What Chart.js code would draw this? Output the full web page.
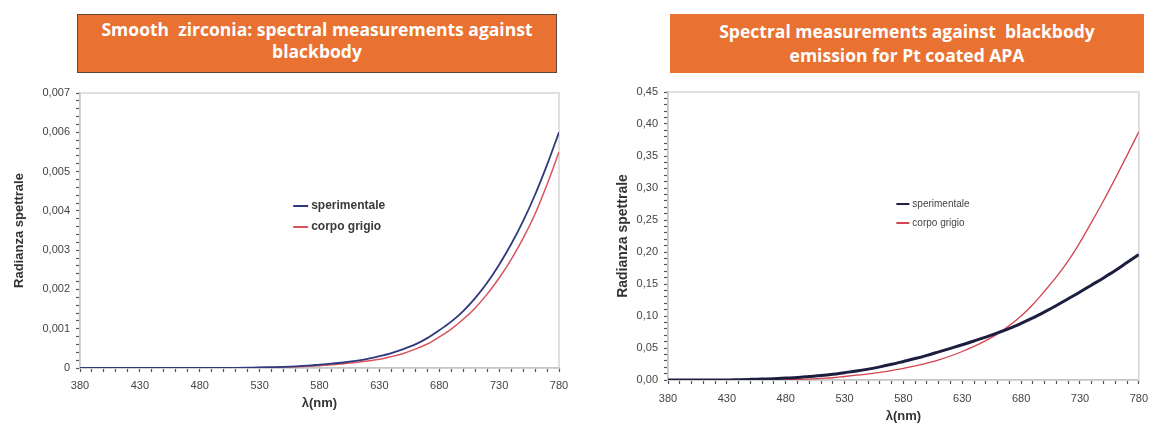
<!DOCTYPE html>
<html>
<head>
<meta charset="utf-8">
<script src="https://cdn.jsdelivr.net/npm/chart.js@4.4.0/dist/chart.umd.min.js"></script>
<style>
  body { margin: 0; background: #fff; width: 1156px; height: 427px; position: relative; overflow: hidden; }
  .box { position: absolute; background: #E97132; color: #fff; font-family: "Open Sans", Lato, sans-serif;
         font-weight: 700; font-size: 17.5px; text-align: center; box-sizing: border-box; white-space: nowrap; }
  #title1 { left: 77px; top: 14px; width: 480px; height: 59px; line-height: 22px; padding-top: 3px; border: 1px solid #5b4638; }
  #title2 { left: 670px; top: 14px; width: 474px; height: 59px; line-height: 24px; padding-top: 5px; }
  .wrap { position: absolute; top: 0; height: 427px; }
  #wrap1 { left: 0; width: 580px; }
  #wrap2 { left: 580px; width: 576px; }
</style>
</head>
<body>
<div class="box" id="title1">Smooth&nbsp; zirconia: spectral measurements against<br>blackbody</div>
<div class="box" id="title2">Spectral measurements against&nbsp; blackbody<br>emission for Pt coated APA</div>
<div class="wrap" id="wrap1"><canvas id="chartZirconia" width="580" height="427"></canvas></div>
<div class="wrap" id="wrap2"><canvas id="chartPt" width="576" height="427"></canvas></div>
<script>
// wavelengths, nm
const wavelengths = [380, 390, 400, 410, 420, 430, 440, 450, 460, 470, 480, 490, 500, 510, 520, 530, 540, 550, 560, 570,
                     580, 590, 600, 610, 620, 630, 640, 650, 660, 670, 680, 690, 700, 710, 720, 730, 740, 750, 760, 770, 780];

// smooth zirconia (left)
const zrSperimentale = [0, 0, 0, 0, 0, 0, 0, 0, 0, 0, 0, 0, 0, 0.000005, 0.00001, 0.000015, 0.000022, 0.00003, 0.000042, 0.00006,
                        0.000085, 0.00011, 0.00014, 0.00018, 0.00023, 0.0003, 0.00038, 0.00048, 0.0006, 0.00076, 0.00096, 0.00118,
                        0.00145, 0.00178, 0.00217, 0.00263, 0.00315, 0.00374, 0.00441, 0.00517, 0.006];
const zrCorpoGrigio = [0, 0, 0, 0, 0, 0, 0, 0, 0, 0, 0, 0, 0, 0, 0.000005, 0.00001, 0.000015, 0.000022, 0.00003, 0.000045,
                       0.00006, 0.00008, 0.00011, 0.00014, 0.00018, 0.00022, 0.00029, 0.00037, 0.00048, 0.00061, 0.00079, 0.00099,
                       0.00124, 0.00153, 0.00188, 0.00229, 0.00276, 0.0033, 0.00392, 0.00467, 0.0055];

// Pt coated APA (right)
const ptSperimentale = [0, 0, 0, 0, 0, 0, 0.0005, 0.001, 0.0015, 0.002, 0.003, 0.004, 0.0055, 0.007, 0.009, 0.0115, 0.014, 0.017, 0.0205, 0.0245,
                        0.029, 0.0335, 0.0385, 0.044, 0.0495, 0.055, 0.061, 0.067, 0.0735, 0.0805, 0.0885, 0.097,
                        0.1065, 0.1165, 0.127, 0.1375, 0.1485, 0.1595, 0.171, 0.1835, 0.196];
const ptCorpoGrigio = [0, 0, 0, 0, 0, 0, 0, 0, 0, 0.0003, 0.0006, 0.001, 0.0015, 0.0025, 0.0035, 0.0055, 0.0075, 0.0095, 0.012, 0.0145,
                       0.018, 0.022, 0.0265, 0.0315, 0.0375, 0.0445, 0.0525, 0.0615, 0.072, 0.085, 0.1, 0.118,
                       0.139, 0.161, 0.186, 0.215, 0.247, 0.28, 0.315, 0.351, 0.388];

const seriesLabels = ['sperimentale', 'corpo grigio'];

function pairs(ys) {
    return wavelengths.map((w, i) => ({ x: w, y: ys[i] }));
}

// light grey frame round the plot (top / right)
const plotFrame = {
    id: 'plotFrame',
    beforeDatasetsDraw(chart) {
        const { ctx, chartArea: a } = chart;
        ctx.save();
        ctx.strokeStyle = '#d6d6d6';
        ctx.lineWidth = 1.5;
        ctx.strokeRect(a.left, a.top, a.right - a.left, a.bottom - a.top);
        ctx.restore();
    }
};

// legend drawn inside the plot area
const inlineLegend = {
    id: 'inlineLegend',
    afterDatasetsDraw(chart, args, opts) {
        const { ctx, chartArea: a } = chart;
        const left = a.left + opts.fx * (a.right - a.left);
        const top = a.top + opts.fy * (a.bottom - a.top);
        ctx.save();
        ctx.font = opts.font;
        ctx.textBaseline = 'middle';
        chart.data.datasets.forEach((ds, i) => {
            const yy = top + i * opts.rowGap;
            ctx.strokeStyle = ds.borderColor;
            ctx.lineWidth = 2;
            ctx.beginPath();
            ctx.moveTo(left, yy);
            ctx.lineTo(left + opts.lineLen, yy);
            ctx.stroke();
            ctx.fillStyle = opts.color;
            ctx.fillText(ds.label, left + opts.lineLen + 3, yy);
        });
        ctx.restore();
    }
};

Chart.defaults.font.family = '"Liberation Sans", Arial, sans-serif';
Chart.defaults.color = '#444';

function makeChart(id, cfg) {
    return new Chart(document.getElementById(id), {
        type: 'line',
        data: {
            datasets: [
                {
                    label: seriesLabels[0],
                    data: pairs(cfg.exp),
                    borderColor: cfg.expColor,
                    borderWidth: cfg.expWidth,
                    pointRadius: 0,
                    cubicInterpolationMode: 'monotone'
                },
                {
                    label: seriesLabels[1],
                    data: pairs(cfg.grey),
                    borderColor: cfg.greyColor,
                    borderWidth: cfg.greyWidth,
                    pointRadius: 0,
                    cubicInterpolationMode: 'monotone'
                }
            ]
        },
        options: {
            responsive: false,
            animation: false,
            layout: { padding: { top: cfg.top, right: cfg.right, left: 0, bottom: 0 } },
            scales: {
                x: {
                    type: 'linear',
                    min: 380,
                    max: 780,
                    afterFit(s) { s.height = cfg.xHeight; },
                    ticks: {
                        stepSize: 10,
                        autoSkip: false,
                        maxRotation: 0,
                        padding: cfg.xTickPad,
                        font: { size: 11 },
                        callback: v => ((v - 380) % 50 === 0 ? String(v) : '')
                    },
                    grid: { drawOnChartArea: false, tickLength: 4, tickWidth: 1.2, tickColor: '#555' },
                    border: { color: '#999', width: 1.5 },
                    title: {
                        display: true,
                        text: 'λ(nm)',
                        color: '#333',
                        font: { size: 13, weight: 'bold' },
                        padding: { top: 0, bottom: cfg.xTitlePad }
                    }
                },
                y: {
                    min: 0,
                    max: cfg.yMax,
                    afterFit(s) { s.width = cfg.yWidth; },
                    ticks: {
                        stepSize: cfg.yMinor,
                        autoSkip: false,
                        padding: 6,
                        font: { size: 11 },
                        callback: v => {
                            const k = v / cfg.yMajor;
                            if (Math.abs(k - Math.round(k)) > 1e-6) return '';
                            if (v === 0 && cfg.zeroLabel) return cfg.zeroLabel;
                            return v.toFixed(cfg.digits).replace('.', ',');
                        }
                    },
                    grid: { drawOnChartArea: false, tickLength: 4, tickWidth: 1.2, tickColor: '#555' },
                    border: { color: '#999', width: 1.5 },
                    title: {
                        display: true,
                        text: 'Radianza spettrale',
                        color: '#333',
                        font: { size: cfg.yTitleSize, weight: 'bold' },
                        padding: { top: cfg.yTitlePad, bottom: 0 }
                    }
                }
            },
            plugins: {
                legend: { display: false },
                tooltip: { enabled: false },
                inlineLegend: cfg.legend
            }
        },
        plugins: [plotFrame, inlineLegend]
    });
}

makeChart('chartZirconia', {
    exp: zrSperimentale, grey: zrCorpoGrigio,
    expColor: '#2f3a7c', expWidth: 1.8, greyColor: '#d9535f', greyWidth: 1.5,
    top: 93, right: 21, xHeight: 59, yWidth: 80, xTickPad: 7, xTitlePad: 16,
    yMax: 0.007, yMinor: 0.0002, yMajor: 0.001, digits: 3, zeroLabel: '0',
    yTitleSize: 13, yTitlePad: 12,
    legend: { fx: 0.445, fy: 0.411, rowGap: 21, lineLen: 15, font: 'bold 12px "Liberation Sans", Arial', color: '#3a3a3a' }
});

makeChart('chartPt', {
    exp: ptSperimentale, grey: ptCorpoGrigio,
    expColor: '#1c1e40', expWidth: 3, greyColor: '#d3434d', greyWidth: 1.3,
    top: 92, right: 10, xHeight: 47, yWidth: 88, xTickPad: 8, xTitlePad: 3,
    yMax: 0.45, yMinor: 0.01, yMajor: 0.05, digits: 2, zeroLabel: null,
    yTitleSize: 14, yTitlePad: 35,
    legend: { fx: 0.485, fy: 0.389, rowGap: 19, lineLen: 13, font: '10px "Liberation Sans", Arial', color: '#444' }
});
</script>
</body>
</html>
